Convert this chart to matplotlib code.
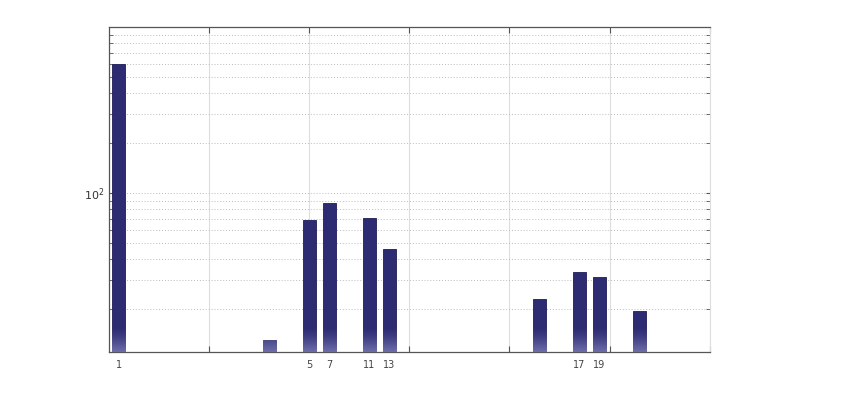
import matplotlib
matplotlib.use("Agg")
import matplotlib.pyplot as plt
import numpy as np
from matplotlib.ticker import LogLocator, NullFormatter, FixedLocator

# bar positions on the axis (axis units), heights
positions = [1, 16, 20, 22, 26, 28, 43, 47, 49, 53]
heights = [596, 13.0, 68.5, 86.7, 71.0, 46.2, 23.1, 33.4, 31.3, 19.5]

label_pos = [1, 20, 22, 26, 28, 47, 49]
label_txt = ["1", "5", "7", "11", "13", "17", "19"]

BAR = "#2d2b72"

fig = plt.figure(figsize=(8.5, 4), dpi=100)
ax = fig.add_axes([0.128, 0.12, 0.707, 0.8125])

bars = ax.bar(positions, heights, width=1.3, color=BAR, edgecolor="#1e1c55",
              linewidth=0.6, zorder=3)

# light fade at the foot of each bar
fade = np.zeros((64, 1, 4))
fade[..., :3] = np.array([0.55, 0.55, 0.78])
fade[:, 0, 3] = np.linspace(0.75, 0.0, 64) ** 1.3
for b in bars:
    im = ax.imshow(fade, extent=[0, 1, 0, 0.075], transform=ax.transAxes,
                   aspect="auto", origin="lower", zorder=4, interpolation="bilinear")
    im.set_clip_path(b)

ax.set_yscale("log")
ax.set_ylim(11, 1000)
ax.set_xlim(0, 60)

ax.xaxis.remove_overlapping_locs = False
ax.set_xticks(range(10, 61, 10))
ax.set_xticklabels([])
ax.set_xticks(label_pos, minor=True)
ax.set_xticklabels(label_txt, minor=True)
ax.tick_params(axis="x", which="minor", length=0, pad=6, labelsize=7, labelcolor="#444444")
ax.tick_params(axis="x", which="major", direction="in", length=4, color="#555555", top=True)

ax.yaxis.set_major_locator(FixedLocator([100]))
ax.set_yticklabels([r"$10^2$"])
ax.yaxis.set_minor_locator(LogLocator(base=10, subs=range(2, 10)))
ax.yaxis.set_minor_formatter(NullFormatter())
ax.tick_params(axis="y", which="both", direction="in", length=3, color="#555555",
               right=True, labelsize=8, labelcolor="#333333")

ax.grid(axis="x", which="major", color="#dddddd", linewidth=0.8, zorder=0)
ax.grid(axis="y", which="both", color="#bbbbbb", linestyle=(0, (1, 2)), linewidth=0.7, zorder=0)

for side in ["left", "bottom", "top"]:
    ax.spines[side].set_color("#555555")
    ax.spines[side].set_linewidth(0.9)
ax.spines["right"].set_color("#dddddd")

fig.savefig("out.png", dpi=100)
